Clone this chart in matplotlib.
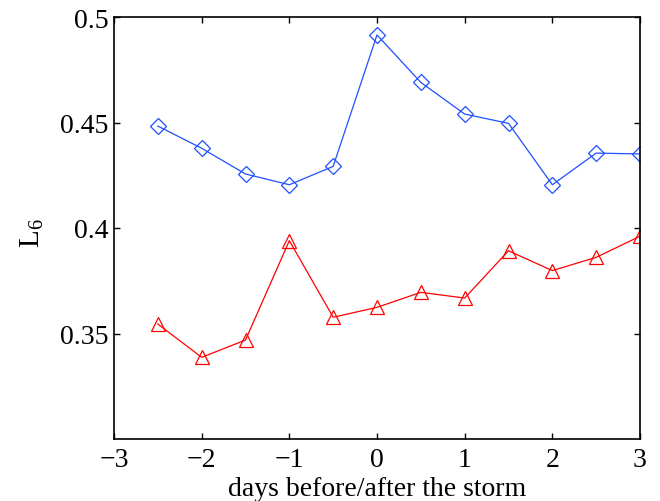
import matplotlib
matplotlib.use("Agg")
import matplotlib.pyplot as plt

days = [-2.5, -2, -1.5, -1, -0.5, 0, 0.5, 1, 1.5, 2, 2.5, 3]
blue_vals = [0.4483, 0.4378, 0.4256, 0.4205, 0.4292, 0.4915, 0.469, 0.454, 0.4496, 0.4205, 0.4355, 0.4351]
red_vals = [0.3545, 0.3387, 0.3469, 0.394, 0.3577, 0.3624, 0.3695, 0.3668, 0.3892, 0.3798, 0.3861, 0.3961]
xticks = [-3, -2, -1, 0, 1, 2, 3]
yticks = [0.35, 0.4, 0.45, 0.5]
ytick_labels = ["0.35", "0.4", "0.45", "0.5"]

plt.rcParams['font.family'] = ['Liberation Serif', 'DejaVu Serif']
plt.rcParams['mathtext.fontset'] = 'custom'
plt.rcParams['mathtext.rm'] = 'Liberation Serif'
plt.rcParams['mathtext.it'] = 'Liberation Serif:italic'

fig = plt.figure(figsize=(6.6, 5.02), dpi=100)
ax = fig.add_axes([114/660, 1 - 440/502, (640-114)/660, (440-18)/502])

ax.plot(days, blue_vals, color='#1f4fff', lw=0.9, marker='D', markersize=8,
        markerfacecolor='none', markeredgecolor='#1f4fff', markeredgewidth=0.9)
ax.plot(days, red_vals, color='#ff0000', lw=0.9, marker='^', markersize=10,
        markerfacecolor='none', markeredgecolor='#ff0000', markeredgewidth=0.9)

ax.set_xlim(-3, 3)
ax.set_ylim(0.3, 0.5)
ax.set_xticks(xticks)
ax.set_xticklabels(['\u2212%d' % -t if t < 0 else '%d' % t for t in xticks])
ax.set_yticks(yticks)
ax.set_yticklabels(ytick_labels)
ax.tick_params(direction='in', top=True, right=True, length=4, width=1, labelsize=20)
ax.tick_params(axis='y', pad=4)
ax.tick_params(axis='x', pad=6)
for s in ax.spines.values():
    s.set_linewidth(1.2)

ax.set_xlabel('days before/after the storm', fontsize=20, labelpad=3)
ax.set_ylabel(r'L$_6$', fontsize=21)
ax.yaxis.set_label_coords(-0.13, 0.49)

fig.savefig('out.png', dpi=100)
